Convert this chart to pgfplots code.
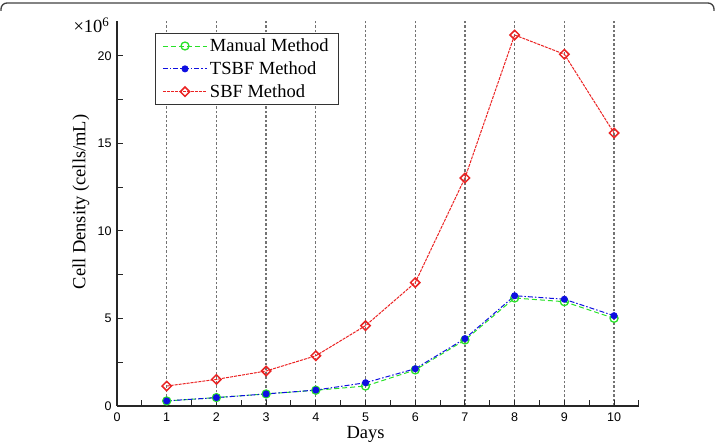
\documentclass[border=0pt]{standalone}
\usepackage{fontspec}
\setmainfont{Liberation Serif}
\setsansfont{Liberation Sans}
\usepackage{pgfplots}
\pgfplotsset{compat=1.18}

\definecolor{mgreen}{RGB}{40,225,40}
\definecolor{tblue}{RGB}{15,15,225}
\definecolor{sred}{RGB}{235,35,35}
\definecolor{gridgray}{RGB}{115,115,115}

\begin{document}
\begin{tikzpicture}[x=1pt,y=1pt]
\useasboundingbox (0,0) rectangle (715,444);
% frame edge along the top
\draw[line width=1.3pt, black!75, rounded corners=6pt] (1,433) -- (1,441) -- (714,441) -- (714,433);
\begin{axis}[
  at={(117pt,38pt)}, anchor=south west,
  scale only axis, width=521.9pt, height=385pt,
  xmin=0, xmax=10.5, ymin=0, ymax=22,
  axis lines=left,
  axis line style={-, line width=1.2pt, black!85},
  xtick={0,...,10}, minor xtick={0.5,1.5,...,10.5},
  ytick={0,5,10,15,20}, minor ytick={2.5,7.5,12.5,17.5},
  tick align=inside, major tick length=6pt, minor tick length=6pt,
  tick style={line width=1pt, black!85},
  xmajorgrids,
  grid style={gridgray, line width=1.3pt, dash pattern=on 2.5pt off 2pt},
  /pgf/number format/assume math mode=true,
  ticklabel style={font=\sffamily\fontsize{12.5}{14}\selectfont},
  xticklabel style={yshift=-3pt},
  yticklabel style={xshift=-2pt},
  xlabel={Days}, ylabel={Cell Density (cells/mL)},
  every axis x label/.style={at={(axis description cs:0.4762,-0.073)}, anchor=center, font=\fontsize{18.5}{20}\selectfont},
  every axis y label/.style={at={(axis description cs:-0.069,0.53)}, rotate=90, anchor=center, font=\fontsize{18.5}{20}\selectfont},
  legend style={at={(axis description cs:0.073,0.969)}, anchor=north west,
    draw=black!80, line width=0.8pt, fill=white,
    font=\fontsize{18.5}{20}\selectfont, nodes={inner sep=2.5pt}, row sep=3.5pt,
    inner xsep=7pt, inner ysep=3pt},
  legend cell align=left,
  legend image code/.code={\draw[mark repeat=2,mark phase=2,#1] plot coordinates {(0pt,0pt) (22pt,0pt) (44pt,0pt)};},
  clip=false,
]
\addplot[mgreen, line width=1pt, dash pattern=on 5pt off 3pt,
  mark=o, mark size=4pt, mark options={solid, line width=1.3pt}]
  coordinates {(1,0.29) (2,0.48) (3,0.69) (4,0.90) (5,1.14) (6,2.06) (7,3.77) (8,6.17) (9,5.96) (10,5.01)};
\addlegendentry{Manual Method}
\addplot[tblue, line width=1pt, dash pattern=on 5pt off 2pt on 1.5pt off 2pt,
  mark=*, mark size=3pt, mark options={solid}]
  coordinates {(1,0.29) (2,0.48) (3,0.69) (4,0.91) (5,1.33) (6,2.13) (7,3.85) (8,6.30) (9,6.10) (10,5.16)};
\addlegendentry{TSBF Method}
\addplot[sred, line width=1pt, dash pattern=on 3pt off 1pt,
  mark=square, mark size=3.3pt, mark options={solid, rotate=45, line width=1.5pt, fill=white}]
  coordinates {(1,1.14) (2,1.52) (3,2.00) (4,2.87) (5,4.59) (6,7.05) (7,13.03) (8,21.2) (9,20.1) (10,15.6)};
\addlegendentry{SBF Method}
\node[anchor=east, font=\fontsize{18.5}{20}\selectfont] at ([xshift=-4pt,yshift=-4pt]rel axis cs:0,1) {×10\textsuperscript{6}};
\end{axis}
\end{tikzpicture}
\end{document}
